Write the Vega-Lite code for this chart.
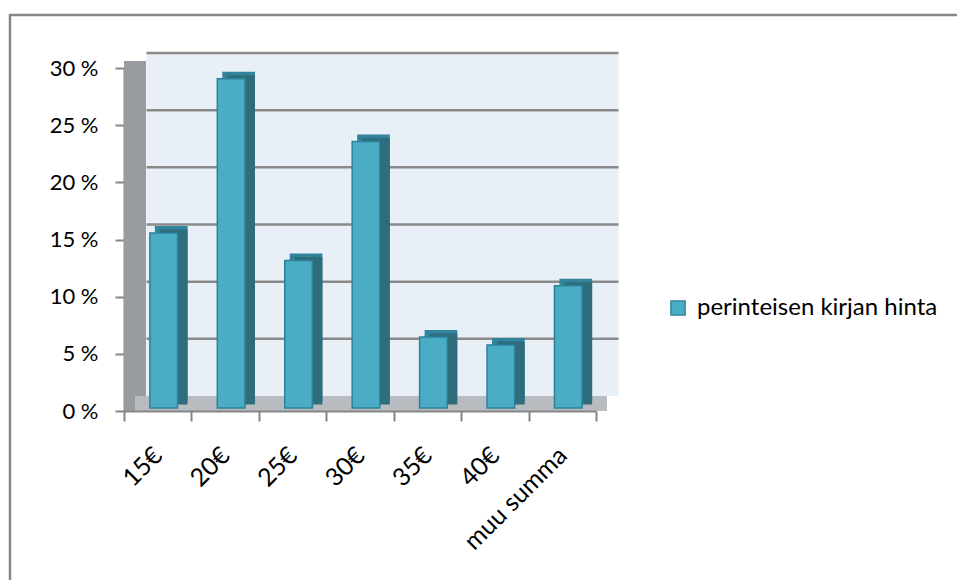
{
  "$schema": "https://vega.github.io/schema/vega-lite/v6.json",
  "width": 960,
  "height": 570,
  "padding": {"left": 1, "top": 15, "right": 0, "bottom": 0},
  "background": "white",
  "config": {
    "view": {"stroke": "#878787", "strokeWidth": 2.5},
    "font": "Lato"
  },
  "datasets": {
    "prices": [
      {"cat": "15€", "value": 15.3},
      {"cat": "20€", "value": 28.8},
      {"cat": "25€", "value": 12.9},
      {"cat": "30€", "value": 23.3},
      {"cat": "35€", "value": 6.2},
      {"cat": "40€", "value": 5.5},
      {"cat": "muu summa", "value": 10.7}
    ],
    "grid": [{"v": 5}, {"v": 10}, {"v": 15}, {"v": 20}, {"v": 25}, {"v": 30}],
    "frame": [{"part": "wall"}]
  },
  "layer": [
    {
      "data": {"name": "frame"},
      "mark": {"type": "rect", "color": "#989CA0", "x2Offset": 22, "yOffset": -7},
      "encoding": {
        "x": {"datum": "15€", "type": "nominal", "bandPosition": 0},
        "x2": {"datum": "15€", "bandPosition": 0},
        "y": {"datum": 30, "type": "quantitative"},
        "y2": {"datum": 0}
      }
    },
    {
      "data": {"name": "frame"},
      "mark": {"type": "rect", "color": "#E8EFF7", "xOffset": 22.5, "x2Offset": 22.5, "yOffset": -15, "y2Offset": -15},
      "encoding": {
        "x": {"datum": "15€", "type": "nominal", "bandPosition": 0},
        "x2": {"datum": "muu summa", "bandPosition": 1},
        "y": {"datum": 30, "type": "quantitative"},
        "y2": {"datum": 0}
      }
    },
    {
      "data": {"name": "grid"},
      "mark": {"type": "rule", "color": "#8A8A8A", "strokeWidth": 2.5, "xOffset": 22.5, "x2Offset": 22.5, "yOffset": -15},
      "encoding": {
        "x": {"datum": "15€", "type": "nominal", "bandPosition": 0},
        "x2": {"datum": "muu summa", "bandPosition": 1},
        "y": {"field": "v", "type": "quantitative"}
      }
    },
    {
      "data": {"name": "frame"},
      "mark": {"type": "rect", "color": "#B8BBBF", "xOffset": 11, "x2Offset": 11, "yOffset": -15},
      "encoding": {
        "x": {"datum": "15€", "type": "nominal", "bandPosition": 0},
        "x2": {"datum": "muu summa", "bandPosition": 1},
        "y": {"datum": 0, "type": "quantitative"},
        "y2": {"datum": 0}
      }
    },
    {
      "data": {"name": "prices"},
      "mark": {"type": "bar", "color": "#31849B", "width": {"band": 0.485}, "xOffset": 13.5, "yOffset": -10, "y2Offset": -10},
      "encoding": {
        "x": {"field": "cat", "type": "nominal"},
        "y": {"field": "value", "type": "quantitative"}
      }
    },
    {
      "data": {"name": "prices"},
      "mark": {"type": "bar", "color": "#2F6C7C", "width": {"band": 0.41}, "xOffset": 16, "yOffset": -6.5, "y2Offset": -10},
      "encoding": {
        "x": {"field": "cat", "type": "nominal"},
        "y": {"field": "value", "type": "quantitative"}
      }
    },
    {
      "data": {"name": "prices"},
      "mark": {"type": "bar", "stroke": "#2E8199", "strokeWidth": 1.5, "width": {"band": 0.41}, "xOffset": 6, "yOffset": -3, "y2Offset": -3},
      "encoding": {
        "x": {
          "field": "cat",
          "type": "nominal",
          "sort": null,
          "scale": {"domain": ["15€", "20€", "25€", "30€", "35€", "40€", "muu summa"], "range": [114, 586], "paddingInner": 0, "paddingOuter": 0},
          "axis": {
            "title": null,
            "offset": -174,
            "grid": false,
            "domainColor": "#868686",
            "domainWidth": 2,
            "tickColor": "#868686",
            "tickWidth": 2,
            "tickSize": 10,
            "tickBand": "extent",
            "labelAngle": -45,
            "labelAlign": "right",
            "labelBaseline": "middle",
            "labelPadding": 30,
            "labelFont": "Lato",
            "labelFontSize": 25,
            "labelColor": "#000000"
          }
        },
        "y": {
          "field": "value",
          "type": "quantitative",
          "scale": {"domain": [0, 30], "range": [396, 53], "nice": false},
          "axis": {
            "title": null,
            "offset": -114,
            "grid": false,
            "values": [0, 5, 10, 15, 20, 25, 30],
            "labelExpr": "datum.value + ' %'",
            "domainColor": "#8B8F93",
            "domainWidth": 2,
            "tickColor": "#868686",
            "tickWidth": 2,
            "tickSize": 9,
            "labelPadding": 17,
            "labelFont": "Lato",
            "labelFontSize": 22,
            "labelColor": "#000000"
          }
        },
        "color": {
          "datum": "perinteisen kirjan hinta",
          "type": "nominal",
          "scale": {"range": ["#4BACC6"]},
          "legend": {
            "orient": "none",
            "legendX": 656,
            "legendY": 281,
            "title": null,
            "padding": 0,
            "symbolType": "square",
            "symbolSize": 200,
            "symbolStrokeColor": "#31859C",
            "symbolStrokeWidth": 1.5,
            "labelFont": "Lato",
            "labelFontSize": 24,
            "labelLimit": 400,
            "labelColor": "#000000",
            "labelOffset": 7
          }
        }
      }
    }
  ]
}
